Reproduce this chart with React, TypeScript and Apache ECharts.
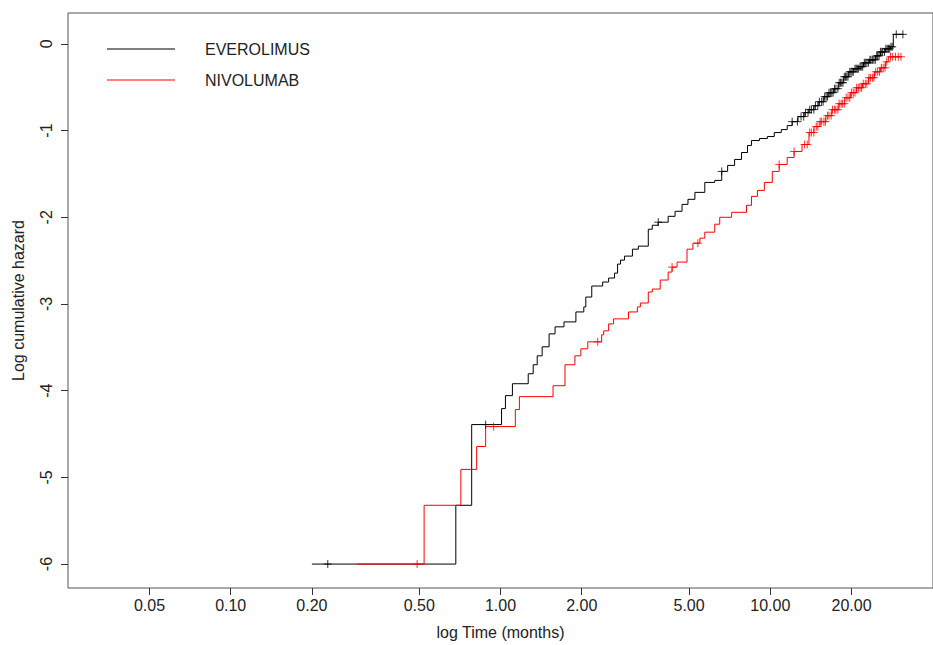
import React, { useEffect, useRef } from "react";
import * as echarts from "echarts";

// EVEROLIMUS: event times (months) and log cumulative hazard after each step
const EVE_T = [0.20, 0.683, 0.782, 1.009, 1.043, 1.107, 1.267, 1.322, 1.368, 1.427, 1.514, 1.593, 1.719, 1.903, 2.036, 2.071, 2.179, 2.391, 2.516, 2.647, 2.716, 2.786, 2.882, 3.083, 3.243, 3.530, 3.652, 3.842, 4.182, 4.437, 4.708, 4.953, 5.255, 5.718, 6.224, 6.605, 6.948, 7.373, 7.823, 8.231, 8.515, 9.112, 9.750, 10.34, 10.98, 11.55, 12.05, 12.67, 13.34, 13.91, 14.51, 15.14, 15.80, 16.48, 17.19, 17.94, 18.71, 19.52, 20.36, 21.24, 22.16, 23.31, 24.53, 25.59, 26.70, 27.86, 28.57, 31.09];
const EVE_V = [-6.0, -5.322, -4.391, -4.207, -4.057, -3.920, -3.805, -3.701, -3.598, -3.494, -3.345, -3.264, -3.207, -3.092, -3.034, -2.920, -2.793, -2.747, -2.701, -2.644, -2.540, -2.494, -2.448, -2.368, -2.333, -2.138, -2.092, -2.057, -1.989, -1.931, -1.851, -1.793, -1.713, -1.598, -1.575, -1.471, -1.402, -1.333, -1.253, -1.172, -1.115, -1.092, -1.069, -1.023, -0.989, -0.943, -0.897, -0.839, -0.793, -0.759, -0.713, -0.667, -0.609, -0.563, -0.517, -0.448, -0.379, -0.322, -0.287, -0.264, -0.218, -0.184, -0.138, -0.092, -0.057, -0.034, 0.110, 0.110];
const EVE_CENSOR = [0.229, 0.881, 3.842, 6.605, 12.05, 12.6, 13.0, 13.3, 13.5, 13.8, 14.0, 14.2, 14.5, 14.7, 15.0, 15.2, 15.5, 15.7, 15.9, 16.1, 16.3, 16.5, 16.7, 16.9, 17.1, 17.3, 17.5, 17.8, 18.0, 18.2, 18.4, 18.6, 18.8, 19.0, 19.2, 19.4, 19.7, 19.9, 20.1, 20.3, 20.6, 20.8, 21.0, 21.2, 21.5, 21.7, 22.0, 22.3, 22.5, 22.8, 23.1, 23.4, 23.6, 23.9, 24.2, 24.5, 24.8, 25.0, 25.3, 25.6, 25.9, 26.1, 26.5, 26.8, 27.1, 27.4, 27.7, 28.0, 28.3, 29.3, 31.0];

// NIVOLUMAB
const NIV_T = [0.293, 0.521, 0.713, 0.816, 0.881, 1.135, 1.175, 1.566, 1.734, 1.887, 1.986, 2.106, 2.371, 2.412, 2.516, 2.625, 2.981, 3.216, 3.299, 3.530, 3.652, 3.908, 4.182, 4.325, 4.512, 4.912, 5.167, 5.483, 5.718, 6.224, 6.494, 7.189, 8.163, 8.515, 8.960, 9.504, 10.17, 10.79, 11.55, 12.25, 13.11, 13.91, 14.51, 15.27, 16.07, 16.90, 17.94, 18.87, 19.86, 20.89, 21.98, 23.12, 24.32, 25.59, 26.70, 27.38, 30.57];
const NIV_V = [-6.0, -5.322, -4.908, -4.644, -4.414, -4.218, -4.069, -3.943, -3.701, -3.598, -3.517, -3.437, -3.356, -3.310, -3.230, -3.172, -3.092, -3.034, -2.989, -2.862, -2.828, -2.724, -2.632, -2.575, -2.517, -2.368, -2.299, -2.241, -2.172, -2.080, -2.000, -1.943, -1.862, -1.759, -1.690, -1.598, -1.471, -1.391, -1.310, -1.241, -1.161, -1.023, -0.954, -0.897, -0.828, -0.759, -0.690, -0.621, -0.563, -0.506, -0.460, -0.391, -0.322, -0.276, -0.207, -0.149, -0.149];
const NIV_CENSOR = [0.491, 0.943, 2.293, 4.325, 5.39, 10.79, 12.25, 13.4, 13.7, 14.0, 14.2, 14.5, 14.8, 15.0, 15.3, 15.5, 15.8, 16.0, 16.3, 16.5, 16.8, 17.0, 17.3, 17.5, 17.8, 18.0, 18.3, 18.5, 18.8, 19.1, 19.4, 19.7, 20.0, 20.3, 20.6, 20.9, 21.2, 21.5, 21.8, 22.1, 22.5, 22.8, 23.2, 23.5, 23.9, 24.2, 24.6, 25.0, 25.4, 25.8, 26.2, 26.6, 27.0, 27.9, 28.4, 29.1, 29.8, 30.5];

const X_TICKS = [0.05, 0.1, 0.2, 0.5, 1, 2, 5, 10, 20];
const Y_TICKS = [-6, -5, -4, -3, -2, -1, 0];

const NAMES = ["EVEROLIMUS", "NIVOLUMAB"];
const COLORS = ["#000000", "#ff0000"];

const stepAt = (T: number[], V: number[], t: number) => {
  let v = V[0];
  for (let i = 0; i < T.length; i++) {
    if (T[i] <= t + 1e-9) v = V[i];
    else break;
  }
  return v;
};

const FONT = "'Liberation Sans', Arial, sans-serif";
const PLUS = "path://M0,5L10,5M5,0L5,10";

export default function App() {
  const ref = useRef<HTMLDivElement>(null);
  useEffect(() => {
    if (!ref.current) return;
    const chart = echarts.init(ref.current, null, { renderer: "svg" });
    const lineSeries = (name: string, T: number[], V: number[], color: string) => ({
      name,
      type: "line",
      step: "end",
      showSymbol: false,
      symbol: "none",
      data: T.map((t, i) => [Math.log10(t), V[i]]),
      lineStyle: { color, width: 1 },
      itemStyle: { color },
      z: 3,
    });
    const censorSeries = (name: string, C: number[], T: number[], V: number[], color: string) => ({
      name: name + "_censor",
      type: "scatter",
      symbol: PLUS,
      symbolSize: 8,
      data: C.map((t) => [Math.log10(t), stepAt(T, V, t)]),
      itemStyle: { color: "none", borderColor: color, borderWidth: 1 },
      z: 4,
    });
    chart.setOption({
      animation: false,
      backgroundColor: "#ffffff",
      grid: {
        left: 68,
        top: 13,
        right: -7,
        bottom: 55,
        show: true,
        borderColor: "#555",
        borderWidth: 1,
        containLabel: false,
      },
      legend: {
        data: NAMES,
        orient: "vertical",
        left: 102,
        top: 36,
        itemWidth: 68,
        itemHeight: 1,
        itemGap: 15,
        icon: "rect",
        textStyle: { fontFamily: FONT, fontSize: 16, color: "#222", padding: [0, 0, 0, 25] },
        selectedMode: false,
      },
      xAxis: {
        type: "value",
        min: -1.603,
        max: 1.603,
        name: "log Time (months)",
        nameLocation: "middle",
        nameGap: 36,
        nameTextStyle: { fontFamily: FONT, fontSize: 16, color: "#222" },
        axisLine: { show: false, onZero: false },
        splitLine: { show: false },
        axisTick: {
          show: true,
          length: 7,
          lineStyle: { color: "#333" },
          customValues: X_TICKS.map((v) => Math.log10(v)),
        },
        axisLabel: {
          fontFamily: FONT,
          fontSize: 16,
          color: "#222",
          margin: 9,
          customValues: X_TICKS.map((v) => Math.log10(v)),
          formatter: (v: number) => Math.pow(10, v).toFixed(2),
        },
      },
      yAxis: {
        type: "value",
        min: -6.276,
        max: 0.356,
        name: "Log cumulative hazard",
        nameLocation: "middle",
        nameGap: 42,
        nameRotate: 90,
        nameTextStyle: { fontFamily: FONT, fontSize: 16, color: "#222" },
        axisLine: { show: false, onZero: false },
        splitLine: { show: false },
        axisTick: {
          show: true,
          length: 7,
          lineStyle: { color: "#333" },
          customValues: Y_TICKS,
        },
        axisLabel: {
          fontFamily: FONT,
          fontSize: 16,
          color: "#222",
          rotate: 90,
          margin: 14,
          customValues: Y_TICKS,
          formatter: (v: number) => String(v),
        },
      },
      series: [
        lineSeries(NAMES[0], EVE_T, EVE_V, COLORS[0]),
        lineSeries(NAMES[1], NIV_T, NIV_V, COLORS[1]),
        censorSeries(NAMES[0], EVE_CENSOR, EVE_T, EVE_V, COLORS[0]),
        censorSeries(NAMES[1], NIV_CENSOR, NIV_T, NIV_V, COLORS[1]),
      ],
    });
    return () => chart.dispose();
  }, []);
  return (
    <div
      ref={ref}
      style={{ position: "fixed", left: 0, top: 0, width: 933, height: 645, background: "#fff" }}
    />
  );
}
